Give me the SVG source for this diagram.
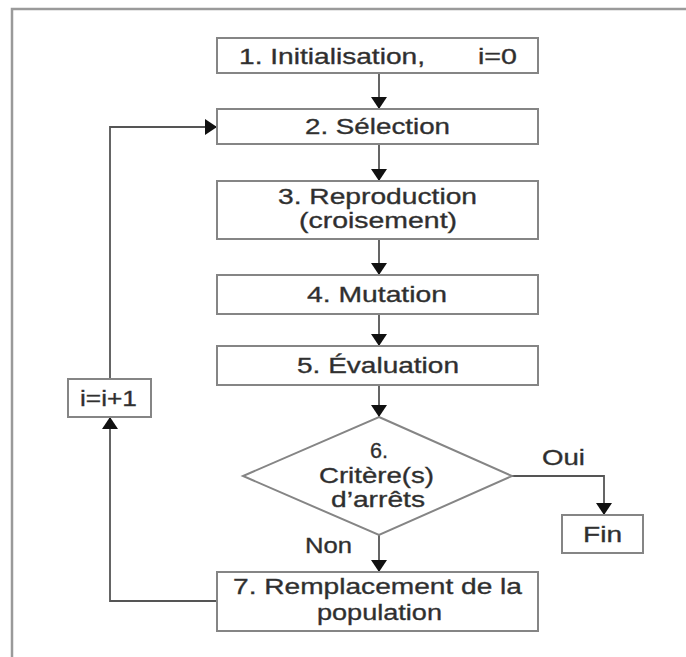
<svg xmlns="http://www.w3.org/2000/svg" width="686" height="657" viewBox="0 0 686 657">
<defs>
<marker id="ah" markerUnits="userSpaceOnUse" viewBox="0 0 12 16" refX="12" refY="8" markerWidth="12" markerHeight="16" orient="auto">
<path d="M0,0 L12,8 L0,16 z" fill="#111"/>
</marker>
<style>
.box{fill:#fff;stroke:#858585;stroke-width:2}
.t{font-family:"Liberation Sans",Arial,sans-serif;font-size:22px;fill:#2e2e2e;stroke:#3a3a3a;stroke-width:0.35}
.c{text-anchor:middle}
.ln{fill:none;stroke:#555;stroke-width:1.8}
.ar{fill:none;stroke:#555;stroke-width:1.8;marker-end:url(#ah)}
.frame{fill:none;stroke:#9a9a9a;stroke-width:2.5}
</style>
</defs>
<rect width="686" height="657" fill="#fff"/>
<path class="frame" d="M12,657 V9 H686"/>
<g id="connectors">
<path class="ar" d="M379,73 V109"/>
<path class="ar" d="M379,144 V181"/>
<path class="ar" d="M379,239 V275"/>
<path class="ar" d="M379,314 V346"/>
<path class="ar" d="M379,385 V417"/>
<path class="ar" d="M379,535 V572"/>
<path class="ar" d="M512,476 H604 V515"/>
<path class="ar" d="M217,601 H110 V417"/>
<path class="ar" d="M110,379 V127 H217"/>
<text class="t" x="542" y="465" textLength="43" lengthAdjust="spacingAndGlyphs">Oui</text>
<text class="t" x="305" y="553" textLength="47" lengthAdjust="spacingAndGlyphs">Non</text>
</g>
<g id="n1">
<rect class="box" x="217" y="38" width="321" height="35"/>
<text class="t" x="239" y="64" textLength="186" lengthAdjust="spacingAndGlyphs">1. Initialisation,</text>
<text class="t" x="478" y="64" textLength="39" lengthAdjust="spacingAndGlyphs">i=0</text>
</g>
<g id="n2">
<rect class="box" x="217" y="109" width="321" height="35"/>
<text class="t" x="305" y="134" textLength="145" lengthAdjust="spacingAndGlyphs">2. Sélection</text>
</g>
<g id="n3">
<rect class="box" x="217" y="181" width="321" height="58"/>
<text class="t" x="278" y="204" textLength="199" lengthAdjust="spacingAndGlyphs">3. Reproduction</text>
<text class="t" x="299" y="228" textLength="158" lengthAdjust="spacingAndGlyphs">(croisement)</text>
</g>
<g id="n4">
<rect class="box" x="217" y="275" width="321" height="39"/>
<text class="t" x="307" y="302" textLength="140" lengthAdjust="spacingAndGlyphs">4. Mutation</text>
</g>
<g id="n5">
<rect class="box" x="217" y="346" width="321" height="39"/>
<text class="t" x="297" y="373" textLength="162" lengthAdjust="spacingAndGlyphs">5. Évaluation</text>
</g>
<g id="n6">
<path class="box" d="M379,417 L512,476 L379,535 L243,476 z"/>
<text class="t" x="370" y="458" textLength="18" lengthAdjust="spacingAndGlyphs">6.</text>
<text class="t" x="319" y="483" textLength="115" lengthAdjust="spacingAndGlyphs">Critère(s)</text>
<text class="t" x="331" y="507" textLength="94" lengthAdjust="spacingAndGlyphs">d’arrêts</text>
</g>
<g id="n7">
<rect class="box" x="217" y="572" width="321" height="59"/>
<text class="t" x="233" y="594" textLength="289" lengthAdjust="spacingAndGlyphs">7. Remplacement de la</text>
<text class="t" x="317" y="620" textLength="125" lengthAdjust="spacingAndGlyphs">population</text>
</g>
<g id="fin">
<rect class="box" x="562" y="515" width="81" height="38"/>
<text class="t" x="583" y="542" textLength="39" lengthAdjust="spacingAndGlyphs">Fin</text>
</g>
<g id="inc">
<rect class="box" x="68" y="379" width="83" height="38"/>
<text class="t" x="80" y="406" textLength="57" lengthAdjust="spacingAndGlyphs">i=i+1</text>
</g>
</svg>
